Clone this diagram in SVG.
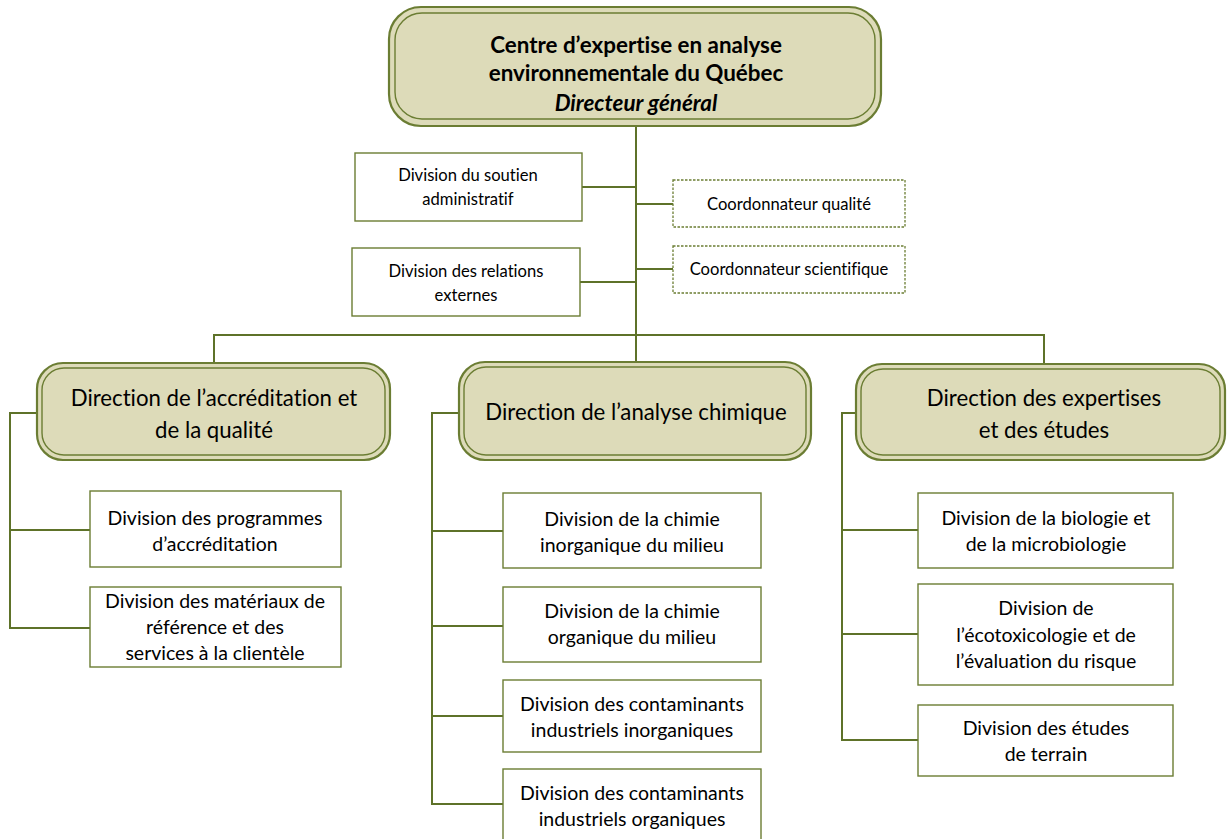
<svg xmlns="http://www.w3.org/2000/svg" width="1227" height="839" viewBox="0 0 1227 839">
<style>
.outer{fill:#dddbb9;stroke:#6b7d33;stroke-width:2.2}
.inner{fill:none;stroke:#6b7d33;stroke-width:1.4}
.box{fill:#ffffff;stroke:#6b7d33;stroke-width:1.4}
.dash{fill:#ffffff;stroke:#6b7d33;stroke-width:1.3;stroke-dasharray:2.5 1.5}
.conn{fill:none;stroke:#5e7229;stroke-width:2}
text{font-family:Lato,"Open Sans","Liberation Sans",sans-serif;fill:#000;text-anchor:middle;font-variant-ligatures:none;font-feature-settings:"liga" 0,"dlig" 0}
.t{font-size:19.5px}
.s{font-size:16.6px}
.d{font-size:22.2px}
.h{font-size:22.4px;font-weight:bold}
</style>
<rect width="1227" height="839" fill="#ffffff"/>
<g id="connectors">
<path class="conn" d="M636 126 V362"/>
<path class="conn" d="M582 187 H636 M580 282 H636 M636 204 H673 M636 269 H673"/>
<path class="conn" d="M214 363 V335 H1044 V364"/>
<path class="conn" d="M37 413 H10 V628 H90 M10 530 H90"/>
<path class="conn" d="M459 413 H432 V804 H503 M432 531 H503 M432 626 H503 M432 716 H503"/>
<path class="conn" d="M856 413 H842 V740 H918 M842 530 H918 M842 634 H918"/>
</g>
<g id="n_top">
<rect class="outer" x="389" y="7" width="492" height="119" rx="32"/>
<rect class="inner" x="395" y="13" width="480" height="106" rx="27"/>
<text class="h" x="636" y="53">Centre d’expertise en analyse</text>
<text class="h" x="636" y="81">environnementale du Québec</text>
<text class="h" x="636" y="111" font-style="italic">Directeur général</text>
</g>
<g id="n_soutien">
<rect class="box" x="355" y="153" width="227" height="68"/>
<text class="s" x="468" y="181">Division du soutien</text>
<text class="s" x="468" y="205">administratif</text>
</g>
<g id="n_relations">
<rect class="box" x="352" y="248" width="228" height="68"/>
<text class="s" x="466" y="277">Division des relations</text>
<text class="s" x="466" y="301">externes</text>
</g>
<g id="n_qualite">
<rect class="dash" x="673" y="180" width="232" height="47"/>
<text class="s" x="789" y="210">Coordonnateur qualité</text>
</g>
<g id="n_scientifique">
<rect class="dash" x="673" y="246" width="232" height="47"/>
<text class="s" x="789" y="275">Coordonnateur scientifique</text>
</g>
<g id="n_dir_accr">
<rect class="outer" x="37" y="363" width="353" height="97" rx="26"/>
<rect class="inner" x="42" y="368" width="343" height="87" rx="22"/>
<text class="d" x="214" y="406">Direction de l’accréditation et</text>
<text class="d" x="214" y="438">de la qualité</text>
</g>
<g id="n_dir_chim">
<rect class="outer" x="459" y="362" width="352" height="98" rx="26"/>
<rect class="inner" x="464" y="367" width="342" height="88" rx="22"/>
<text class="d" x="636" y="420">Direction de l’analyse chimique</text>
</g>
<g id="n_dir_exp">
<rect class="outer" x="856" y="364" width="369" height="96" rx="26"/>
<rect class="inner" x="861" y="369" width="359" height="86" rx="22"/>
<text class="d" x="1044" y="406">Direction des expertises</text>
<text class="d" x="1044" y="438">et des études</text>
</g>
<g id="n_prog">
<rect class="box" x="90" y="491" width="251" height="76"/>
<text class="t" x="215" y="525">Division des programmes</text>
<text class="t" x="215" y="551">d’accréditation</text>
</g>
<g id="n_mat">
<rect class="box" x="90" y="587" width="251" height="80"/>
<text class="t" x="215" y="608">Division des matériaux de</text>
<text class="t" x="215" y="634">référence et des</text>
<text class="t" x="215" y="660">services à la clientèle</text>
</g>
<g id="n_inorg">
<rect class="box" x="503" y="493" width="258" height="75"/>
<text class="t" x="632" y="526">Division de la chimie</text>
<text class="t" x="632" y="552">inorganique du milieu</text>
</g>
<g id="n_org">
<rect class="box" x="503" y="587" width="258" height="75"/>
<text class="t" x="632" y="618">Division de la chimie</text>
<text class="t" x="632" y="644">organique du milieu</text>
</g>
<g id="n_cont_inorg">
<rect class="box" x="503" y="680" width="258" height="72"/>
<text class="t" x="632" y="711">Division des contaminants</text>
<text class="t" x="632" y="737">industriels inorganiques</text>
</g>
<g id="n_cont_org">
<rect class="box" x="503" y="769" width="258" height="72"/>
<text class="t" x="632" y="800">Division des contaminants</text>
<text class="t" x="632" y="826">industriels organiques</text>
</g>
<g id="n_bio">
<rect class="box" x="918" y="493" width="255" height="75"/>
<text class="t" x="1046" y="525">Division de la biologie et</text>
<text class="t" x="1046" y="551">de la microbiologie</text>
</g>
<g id="n_ecotox">
<rect class="box" x="918" y="584" width="255" height="101"/>
<text class="t" x="1046" y="615">Division de</text>
<text class="t" x="1046" y="642">l’écotoxicologie et de</text>
<text class="t" x="1046" y="668">l’évaluation du risque</text>
</g>
<g id="n_terrain">
<rect class="box" x="918" y="705" width="255" height="71"/>
<text class="t" x="1046" y="735">Division des études</text>
<text class="t" x="1046" y="761">de terrain</text>
</g>
</svg>
